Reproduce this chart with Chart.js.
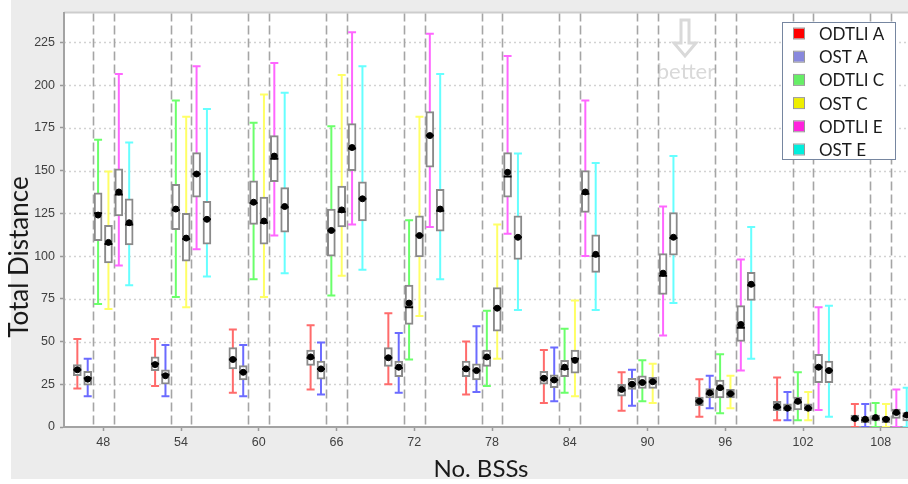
<!DOCTYPE html>
<html>
<head>
<meta charset="utf-8">
<script src="https://cdn.jsdelivr.net/npm/chart.js@4/dist/chart.umd.min.js"></script>
<style>
  html, body { margin: 0; padding: 0; background: #ffffff; }
  #wrap { position: relative; width: 908px; height: 484px; }
</style>
</head>
<body>
<div id="wrap"><canvas id="chart" width="908" height="484"></canvas></div>
<script>
// Number of BSSs on the x axis
const categories = [48, 54, 60, 66, 72, 78, 84, 90, 96, 102, 108];
const yTicks = [0, 25, 50, 75, 100, 125, 150, 175, 200, 225];

// Per series, one row per category:
// [lower whisker, Q1, median, Q3, upper whisker, mean]
const odtliA = [
  [22.5, 30, 33.5, 36.5, 51.5, 33.5],
  [24, 33, 37, 41, 51.5, 36.5],
  [20, 34, 39.5, 46.5, 57, 39.5],
  [22, 36, 40.5, 45, 59.5, 41],
  [25, 35.5, 40.5, 46.5, 66.5, 40.5],
  [19, 29.5, 34, 38.5, 50, 34],
  [14, 25, 28.5, 32.5, 45, 28.5],
  [9.5, 18, 21.5, 25, 32, 22],
  [6, 12.5, 15, 17.5, 28, 15],
  [4, 9.5, 11.5, 15, 29, 12],
  [0, 3.5, 5, 7, 13.5, 5]
];
const ostA = [
  [18, 24.5, 28.5, 32.5, 40, 28],
  [18, 25, 30.5, 33.5, 48, 30],
  [18, 27.5, 32, 36, 48, 32],
  [19, 28, 34, 38.5, 49.5, 34],
  [20, 29.5, 34.5, 38.5, 55, 35],
  [20.5, 27.5, 33, 37, 59, 33],
  [15, 23, 27.5, 30.5, 46.5, 27.5],
  [12.5, 22, 25, 28.5, 33.5, 25],
  [11, 17, 19.5, 22.5, 30, 20],
  [4, 9.5, 11, 13.5, 20.5, 11],
  [0, 2.5, 4, 6, 13.5, 4.5]
];
const odtliC = [
  [72, 109, 125, 137, 168, 124],
  [76, 115.5, 127, 142, 191, 127.5],
  [86.5, 118.5, 131, 144, 178, 131.5],
  [77, 100, 115, 127.5, 176, 115],
  [39.5, 60, 70, 83, 121, 72.5],
  [24, 35.5, 40.5, 45, 68, 41],
  [20, 29.5, 34, 39, 57.5, 35],
  [15, 22.5, 26, 30, 39, 26],
  [8, 17, 22.5, 27.5, 42.5, 23],
  [4, 10, 14.5, 17.5, 32, 15],
  [0, 3.5, 5, 7, 14, 5.5]
];
const ostC = [
  [69, 96, 107, 118, 149.5, 108],
  [70, 97, 110, 125, 181.5, 110.5],
  [76, 107, 119.5, 134.5, 194.5, 120.5],
  [88.5, 117, 126, 141, 206, 127],
  [65, 99.5, 112, 123.5, 181.5, 112],
  [40, 56, 69.5, 81.5, 118.5, 69.5],
  [18, 31.5, 40, 45, 74, 39],
  [14, 22.5, 26.5, 29, 37, 26.5],
  [11, 17, 19.5, 22, 30, 19.5],
  [4, 9.5, 11, 13.5, 20.5, 11],
  [0, 2.5, 4.5, 6, 13.5, 4.5]
];
const odtliE = [
  [94.5, 123.5, 136, 151, 206.5, 137.5],
  [104, 134.5, 148, 160.5, 211, 148],
  [112, 143.5, 157, 170.5, 213, 158.5],
  [118.5, 150, 163, 177.5, 231, 163.5],
  [117, 152, 170.5, 184.5, 230, 170.5],
  [113, 134.5, 146.5, 160.5, 217, 149],
  [100, 125.5, 136.5, 150, 191, 137.5],
  [53.5, 77.5, 88.5, 101.5, 129, 90],
  [33, 50, 58, 71, 98, 60],
  [10, 26, 35, 42.5, 70, 35],
  [0, 5, 8, 10.5, 22, 8.5]
];
const ostE = [
  [83, 106.5, 118.5, 133.5, 166.5, 119.5],
  [88, 107, 121.5, 132, 186, 121.5],
  [90, 114, 128.5, 140, 195.5, 129],
  [92, 120.5, 133.5, 143.5, 211, 133.5],
  [86.5, 114.5, 126.5, 139, 206.5, 127.5],
  [68.5, 98, 111, 123.5, 160, 111],
  [68.5, 90.5, 100, 112.5, 154.5, 101],
  [72.5, 100.5, 110.5, 125.5, 158.5, 111],
  [40, 74, 83, 90.5, 117, 83.5],
  [6, 26, 33, 38.5, 71, 33],
  [0, 3.5, 6.5, 8.5, 23, 7]
];

const seriesLabels = ['ODTLI A', 'OST A', 'ODTLI C', 'OST C', 'ODTLI E', 'OST E'];
const seriesRows = [odtliA, ostA, odtliC, ostC, odtliE, ostE];
const whiskerColors = ['#ff6b6b', '#6b6bff', '#6bff6b', '#ffff66', '#ff66ff', '#66ffff'];
const legendColors = ['#ff0000', '#8888dd', '#66ee66', '#eeee00', '#ff22dd', '#00eedd'];

// horizontal offset (in x units) of each series inside its category group
const slot = i => (i - 2.5) * 0.8;

const boxSets = seriesRows.map((rows, i) => ({
  type: 'bar',
  label: seriesLabels[i],
  data: rows.map((r, k) => ({ x: categories[k] + slot(i), y: [r[1], r[3]] })),
  backgroundColor: '#ffffff',
  borderColor: '#8a8a8a',
  borderWidth: 2,
  borderSkipped: false,
  grouped: false,
  barPercentage: 1,
  categoryPercentage: 1,
  maxBarThickness: 8,
  order: 2
}));

const meanSets = seriesRows.map((rows, i) => ({
  type: 'line',
  label: seriesLabels[i] + ' mean',
  showLine: false,
  data: rows.map((r, k) => ({ x: categories[k] + slot(i), y: r[5] })),
  pointRadius: 3,
  pointStyle: 'circle',
  pointBackgroundColor: '#000000',
  pointBorderColor: '#000000',
  pointBorderWidth: 1,
  order: 1
}));

const tickFont = { family: '"Liberation Sans", Arial, sans-serif', size: 12.5 };

// Panel background, plot frame
const panel = {
  id: 'panel',
  beforeDraw(chart) {
    const { ctx, chartArea: a, width, height } = chart;
    ctx.save();
    ctx.fillStyle = '#ffffff';
    ctx.fillRect(0, 0, width, height);
    ctx.fillStyle = '#ececec';
    ctx.fillRect(11, 0, width - 11, 479);
    ctx.fillStyle = '#ffffff';
    ctx.fillRect(a.left, a.top, width - a.left, a.bottom - a.top);
    ctx.strokeStyle = '#cdcdcd';
    ctx.lineWidth = 2;
    ctx.beginPath();
    ctx.moveTo(a.left, a.top);
    ctx.lineTo(width, a.top);
    ctx.stroke();
    ctx.restore();
  }
};

// Grid, separators, annotation and whiskers under the boxes; medians, legend and titles on top
const boxWhisker = {
  id: 'boxWhisker',
  beforeDatasetsDraw(chart) {
    const { ctx, chartArea: a, scales: { x, y } } = chart;
    ctx.save();
    ctx.beginPath();
    ctx.rect(a.left + 1, a.top + 1, a.right - a.left - 1, a.bottom - a.top - 2);
    ctx.clip();

    // dotted horizontal grid
    ctx.strokeStyle = '#d2d2d2';
    ctx.lineWidth = 1.5;
    ctx.setLineDash([2, 3]);
    yTicks.forEach(v => {
      if (v === 0) return;
      const py = Math.round(y.getPixelForValue(v)) + 0.5;
      ctx.beginPath();
      ctx.moveTo(a.left, py);
      ctx.lineTo(a.right, py);
      ctx.stroke();
    });
    ctx.setLineDash([]);

    // "better" hint with hollow arrow
    const ax = 685, top = 20;
    ctx.strokeStyle = '#d9d9d9';
    ctx.lineWidth = 3;
    ctx.lineJoin = 'miter';
    ctx.beginPath();
    ctx.moveTo(ax - 4, top);
    ctx.lineTo(ax + 4, top);
    ctx.lineTo(ax + 4, top + 23);
    ctx.lineTo(ax + 11, top + 23);
    ctx.lineTo(ax, top + 36);
    ctx.lineTo(ax - 11, top + 23);
    ctx.lineTo(ax - 4, top + 23);
    ctx.closePath();
    ctx.stroke();
    ctx.fillStyle = '#d9d9d9';
    ctx.font = '22px Lato, "Liberation Sans", sans-serif';
    ctx.textAlign = 'center';
    ctx.textBaseline = 'alphabetic';
    ctx.fillText('better', 686, 79);

    // dashed separators between the A, C and E pairs
    ctx.strokeStyle = '#a5a5a5';
    ctx.lineWidth = 1.6;
    ctx.setLineDash([9, 4]);
    categories.forEach(c => {
      [slot(1.5), slot(3.5)].forEach(off => {
        const px = Math.round(x.getPixelForValue(c + off)) + 0.5;
        ctx.beginPath();
        ctx.moveTo(px, a.top);
        ctx.lineTo(px, a.bottom);
        ctx.stroke();
      });
    });
    ctx.setLineDash([]);
    ctx.restore();

    // whiskers with caps
    ctx.save();
    ctx.beginPath();
    ctx.rect(a.left, a.top, a.right - a.left, a.bottom - a.top);
    ctx.clip();
    ctx.lineWidth = 2;
    seriesRows.forEach((rows, i) => {
      ctx.strokeStyle = whiskerColors[i];
      rows.forEach((r, k) => {
        const px = x.getPixelForValue(categories[k] + slot(i));
        const lo = y.getPixelForValue(r[0]);
        const hi = y.getPixelForValue(r[4]);
        ctx.beginPath();
        ctx.moveTo(px, lo);
        ctx.lineTo(px, hi);
        ctx.moveTo(px - 4, hi);
        ctx.lineTo(px + 4, hi);
        ctx.moveTo(px - 4, lo);
        ctx.lineTo(px + 4, lo);
        ctx.stroke();
      });
    });
    ctx.restore();
  },
  afterDatasetsDraw(chart) {
    const { ctx, chartArea: a, scales: { x, y } } = chart;
    ctx.save();
    ctx.beginPath();
    ctx.rect(a.left, a.top, a.right - a.left, a.bottom - a.top);
    ctx.clip();
    // median lines
    ctx.strokeStyle = '#000000';
    ctx.lineWidth = 2;
    seriesRows.forEach((rows, i) => {
      rows.forEach((r, k) => {
        const px = x.getPixelForValue(categories[k] + slot(i));
        const py = y.getPixelForValue(r[2]);
        ctx.beginPath();
        ctx.moveTo(px - 4, py);
        ctx.lineTo(px + 4, py);
        ctx.stroke();
      });
    });
    ctx.restore();

    // legend
    ctx.save();
    const lx = 782, ly = 22, lw = 113, lh = 137;
    ctx.fillStyle = '#ffffff';
    ctx.fillRect(lx, ly, lw, lh);
    ctx.strokeStyle = '#7686a0';
    ctx.lineWidth = 1;
    ctx.strokeRect(lx + 0.5, ly + 0.5, lw, lh);
    ctx.font = '17px Lato, "Liberation Sans", sans-serif';
    ctx.textAlign = 'left';
    ctx.textBaseline = 'middle';
    seriesLabels.forEach((lab, i) => {
      const cy = 33.5 + i * 23.2;
      ctx.fillStyle = legendColors[i];
      ctx.fillRect(794, cy - 5, 10, 10);
      ctx.strokeStyle = '#999999';
      ctx.strokeRect(793.5, cy - 5.5, 11, 11);
      ctx.fillStyle = '#1a1a1a';
      ctx.fillText(lab, 819, cy + 1);
    });
    ctx.restore();

    // axis titles
    ctx.save();
    ctx.fillStyle = '#1a1a1a';
    ctx.textAlign = 'center';
    ctx.textBaseline = 'middle';
    ctx.font = '24px Lato, "Liberation Sans", sans-serif';
    ctx.fillText('No. BSSs', 481, 469);
    ctx.translate(20, 257);
    ctx.rotate(-Math.PI / 2);
    ctx.font = '26px Lato, "Liberation Sans", sans-serif';
    ctx.fillText('Total Distance', 0, 0);
    ctx.restore();
  }
};

new Chart(document.getElementById('chart'), {
  data: { datasets: [...boxSets, ...meanSets] },
  options: {
    responsive: false,
    animation: false,
    events: [],
    layout: { autoPadding: false, padding: { top: 9, left: 0, right: 0, bottom: 0 } },
    plugins: { legend: { display: false }, tooltip: { enabled: false } },
    scales: {
      x: {
        type: 'linear',
        offset: false,
        min: 44.97,
        max: 110.1,
        afterBuildTicks: s => { s.ticks = categories.map(v => ({ value: v })); },
        afterFit: s => { s.height = 57; s.paddingLeft = 0; s.paddingRight = 0; },
        ticks: { font: tickFont, color: '#404040', padding: 4, autoSkip: false, maxRotation: 0, callback: v => String(v) },
        grid: { offset: false, drawOnChartArea: false, drawTicks: true, tickLength: 4, tickColor: '#9a9a9a', tickWidth: 1.5 },
        border: { display: true, color: '#a3a3a3', width: 2 }
      },
      y: {
        type: 'linear',
        min: 0,
        max: 242.5,
        afterBuildTicks: s => { s.ticks = yTicks.map(v => ({ value: v })); },
        afterFit: s => { s.width = 64; },
        ticks: { font: tickFont, color: '#404040', padding: 5 },
        grid: { drawOnChartArea: false, drawTicks: true, tickLength: 4, tickColor: '#9a9a9a', tickWidth: 1.5 },
        border: { display: true, color: '#a3a3a3', width: 2 }
      }
    }
  },
  plugins: [panel, boxWhisker]
});
</script>
</body>
</html>
